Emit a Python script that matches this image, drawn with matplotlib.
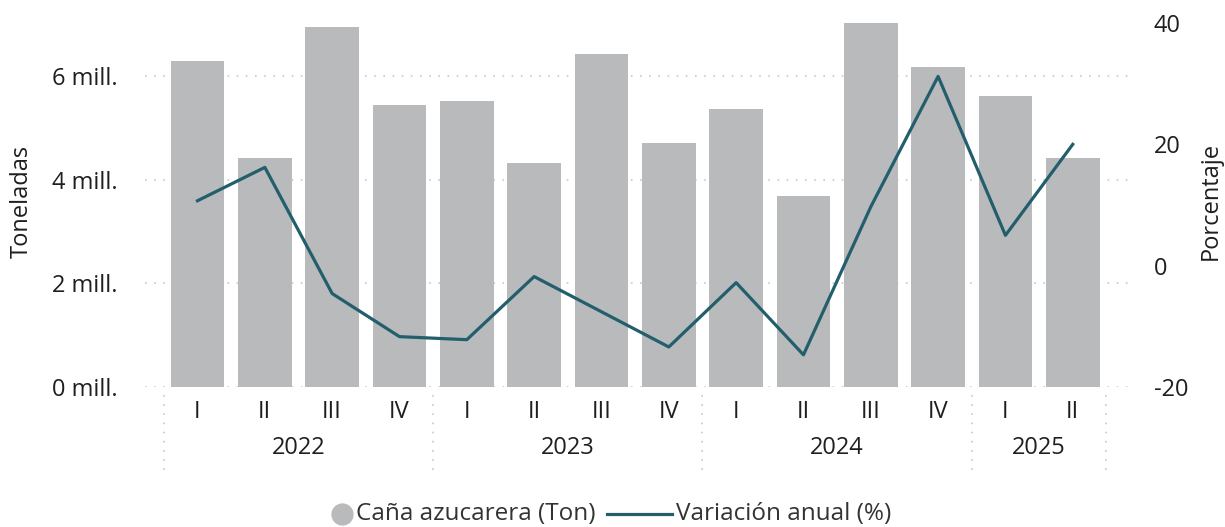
import matplotlib
matplotlib.use("Agg")
import matplotlib.pyplot as plt
from matplotlib.lines import Line2D
import matplotlib.transforms as mtransforms
import numpy as np

plt.rcParams['font.family'] = ['Open Sans', 'DejaVu Sans']
plt.rcParams['axes.unicode_minus'] = False

quarters = ["I", "II", "III", "IV", "I", "II", "III", "IV", "I", "II", "III", "IV", "I", "II"]
years = ["2022", "2023", "2024", "2025"]
year_counts = [4, 4, 4, 2]
cana_mill = [6.29, 4.42, 6.95, 5.44, 5.52, 4.32, 6.42, 4.71, 5.36, 3.69, 7.02, 6.17, 5.61, 4.42]
variacion = [10.7, 16.2, -4.6, -11.7, -12.2, -1.8, -7.6, -13.4, -2.8, -14.7, 9.7, 31.2, 5.0, 20.0]
left_ticks = [0, 2, 4, 6]
right_ticks = [-20, 0, 20, 40]
legend_labels = ["Caña azucarera (Ton)", "Variación anual (%)"]

bar_color = "#B9BABC"
line_color = "#235E6D"
text_color = "#1F1F1F"
fs = 17
W, H = 1225, 527

fig = plt.figure(figsize=(W/100, H/100), dpi=100)
ax = fig.add_axes([145/W, 1-387/H, (1130-145)/W, (387-15)/H])
x = np.arange(len(quarters))
ax.bar(x, cana_mill, width=0.8, color=bar_color, zorder=2)
ax.set_xlim(-0.78, 13.85)
ax.set_ylim(0, 372/51.83)
ax.set_yticks(left_ticks)
ax.set_yticklabels([f"{v} mill." for v in left_ticks])
ax.grid(axis='y', linestyle=(0, (1, 4.5)), color="#C8C8C8", linewidth=1.2, zorder=0)
ax.set_axisbelow(True)
for s in ax.spines.values():
    s.set_visible(False)
ax.tick_params(axis='y', length=0, pad=20, labelsize=fs, labelcolor=text_color)
ax.set_xticks(x)
ax.set_xticklabels(quarters)
ax.tick_params(axis='x', length=0, pad=9, labelsize=fs, labelcolor=text_color)
ax.set_ylabel("Toneladas", fontsize=fs, color=text_color)
ax.yaxis.set_label_coords((34-145)/985, 0.5)

ax2 = ax.twinx()
ax2.plot(x, variacion, color=line_color, linewidth=2.3, zorder=3)
ax2.set_ylim(-20, -20 + 372/6.067)
ax2.set_yticks(right_ticks)
for s in ax2.spines.values():
    s.set_visible(False)
ax2.tick_params(axis='y', length=0, pad=17, labelsize=fs, labelcolor=text_color)
ax2.set_ylabel("Porcentaje", fontsize=fs, color=text_color)
ax2.yaxis.set_label_coords((1199-145)/985, 0.5)

# year group labels and separators
trans = mtransforms.blended_transform_factory(ax.transData, ax.transAxes)
start = -0.5
seps = [start]
for yr, n in zip(years, year_counts):
    end = start + n
    ax.text((start + end) / 2, -0.164, yr, transform=trans, ha='center', va='center',
            fontsize=fs, color=text_color)
    seps.append(end)
    start = end
for s in seps:
    ax.plot([s, s], [-0.0215, -0.223], transform=trans, clip_on=False,
            linestyle=(0, (1, 4.5)), color="#C8C8C8", linewidth=1.2)

# legend (drawn in figure pixel positions)
ly = 1 - 514/H
fig.add_artist(Line2D([342/W], [ly], marker='o', markersize=15, color=bar_color,
                      linestyle='none', transform=fig.transFigure))
fig.text(356/W, ly, legend_labels[0], ha='left', va='center', fontsize=17.5, color="#333333")
fig.add_artist(Line2D([607/W, 672/W], [ly, ly], color=line_color, linewidth=2.3,
                      transform=fig.transFigure))
fig.text(676/W, ly, legend_labels[1], ha='left', va='center', fontsize=17.5, color="#333333")

fig.savefig("out.png", dpi=100)
